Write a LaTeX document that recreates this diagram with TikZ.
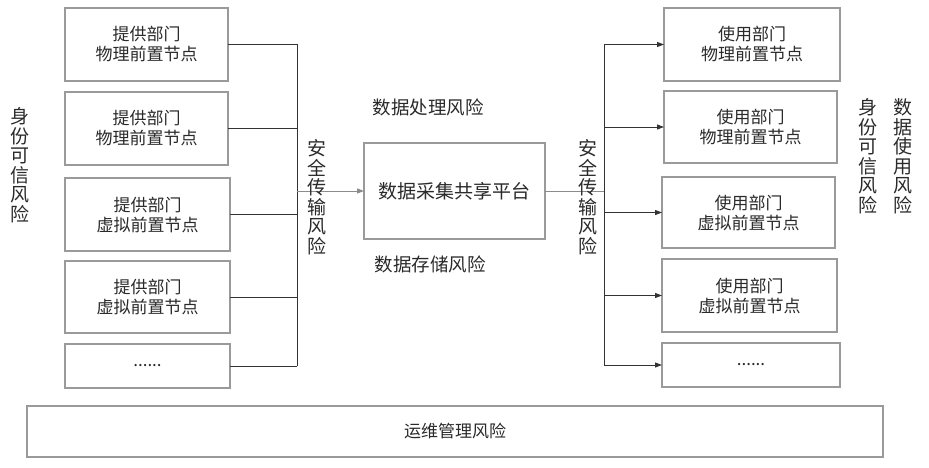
\documentclass[tikz,border=0pt]{standalone}
\usepackage{fontspec}
\setmainfont{Noto Sans CJK SC}
\usetikzlibrary{arrows.meta}
\definecolor{boxline}{HTML}{9A9A9A}
\definecolor{wire}{HTML}{333333}
\definecolor{txt}{HTML}{2A2A2A}
\tikzset{
  nodebox/.style={draw=boxline, line width=1.2pt, fill=white, inner sep=0pt, outer sep=0pt,
    align=center, text=txt, font=\fontsize{17}{20}\selectfont},
  wireline/.style={draw=wire, line width=0.9pt},
  greywire/.style={draw=boxline!90!black, line width=0.9pt},
  arr/.style={-{Triangle[length=7pt,width=5pt]}},
  vlabel/.style={align=center, text=txt, inner sep=0pt, font=\fontsize{19}{19.5}\selectfont},
  hlabel/.style={text=txt, inner sep=0pt, font=\fontsize{18.5}{20}\selectfont}
}
\begin{document}
\begin{tikzpicture}[x=1pt,y=-1pt]
\useasboundingbox (0,0) rectangle (929,468);
\fill[white] (0,0) rectangle (929,468);

% left boxes
\node[nodebox, minimum width=163pt, minimum height=73pt] (L1) at (146.5,44.5) {提供部门\\物理前置节点};
\node[nodebox, minimum width=163pt, minimum height=73pt] (L2) at (146.5,128.5) {提供部门\\物理前置节点};
\node[nodebox, minimum width=165pt, minimum height=73pt] (L3) at (147.5,214.5) {提供部门\\虚拟前置节点};
\node[nodebox, minimum width=165pt, minimum height=72pt] (L4) at (147.5,297) {提供部门\\虚拟前置节点};
\node[nodebox, minimum width=165pt, minimum height=44pt] (L5) at (147.5,366) {......};

% right boxes
\node[nodebox, minimum width=176pt, minimum height=73pt] (R1) at (752,44.5) {使用部门\\物理前置节点};
\node[nodebox, minimum width=173pt, minimum height=72pt] (R2) at (750.5,127) {使用部门\\物理前置节点};
\node[nodebox, minimum width=173pt, minimum height=71pt] (R3) at (748.5,212.5) {使用部门\\虚拟前置节点};
\node[nodebox, minimum width=175pt, minimum height=73pt] (R4) at (749.5,295.5) {使用部门\\虚拟前置节点};
\node[nodebox, minimum width=178pt, minimum height=44pt] (R5) at (751,365) {......};

% center
\node[nodebox, minimum width=181pt, minimum height=96pt, font=\fontsize{19}{20}\selectfont] (C) at (454.5,191) {数据采集共享平台};

% bottom
\node[nodebox, minimum width=856pt, minimum height=51pt] (B) at (455,431.5) {运维管理风险};

% buses
\coordinate (lbus) at (297,0);
\coordinate (rbus) at (604,0);

\foreach \n in {L1,L2,L3,L4,L5} {
  \draw[wireline] (\n.east) -- (\n.east -| lbus);
}
\draw[wireline] (L1.east -| lbus) -- (L5.east -| lbus);
\draw[greywire, arr] (C.west -| lbus) -- (C.west);

\draw[greywire] (C.east) -- (C.east -| rbus);
\draw[wireline] (R1.west -| rbus) -- (R5.west -| rbus);
\foreach \n in {R1,R2,R3,R4,R5} {
  \draw[wireline, arr] (\n.west -| rbus) -- (\n.west);
}

% labels
\node[vlabel] (idL) at (20,165) {身\\份\\可\\信\\风\\险};
\node[vlabel] (secL) at (317,197) {安\\全\\传\\输\\风\\险};
\node[vlabel] (secR) at (588,197) {安\\全\\传\\输\\风\\险};
\node[vlabel] (idR) at (868,156) {身\\份\\可\\信\\风\\险};
\node[vlabel] (useR) at (903,156) {数\\据\\使\\用\\风\\险};
\node[hlabel] (proc) at (428,107) {数据处理风险};
\node[hlabel] (stor) at (430,264) {数据存储风险};
\end{tikzpicture}
\end{document}
